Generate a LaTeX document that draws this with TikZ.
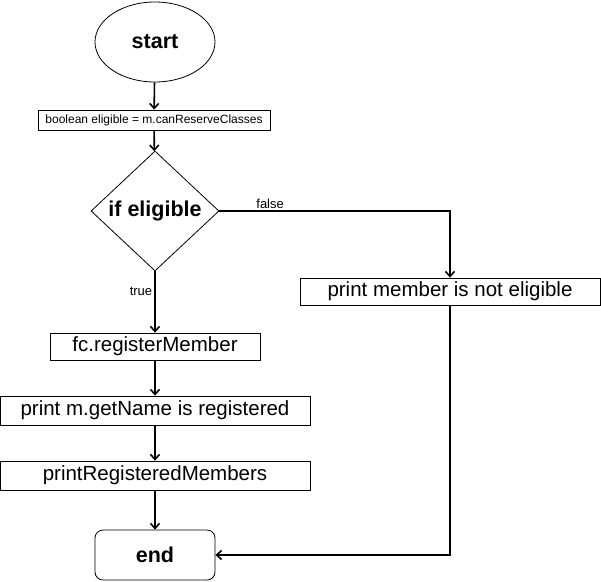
\documentclass[tikz,border=0pt]{standalone}
\usepackage{fontspec}
\setmainfont{Liberation Sans}
\usetikzlibrary{shapes.geometric,arrows.meta,positioning}

\begin{document}
\begin{tikzpicture}[x=1pt, y=-1pt, >={Straight Barb[length=5pt,width=9pt]},
  box/.style={draw, line width=0.8pt, inner sep=0pt, font=\fontsize{20.5}{24}\selectfont},
  flow/.style={->, line width=1.6pt},
  lbl/.style={font=\fontsize{13}{15}\selectfont, inner sep=2pt}]
  \useasboundingbox (0,0) rectangle (601,581);

  % Start and first step
  \node[box, ellipse, minimum width=120pt, minimum height=80pt,
        font=\fontsize{21.5}{26}\selectfont\bfseries] (start) at (155,42) {start};
  \node[box, minimum width=232pt, minimum height=20pt,
        font=\fontsize{12}{14}\selectfont] (elig) at (154,120) {boolean eligible = m.canReserveClasses};

  % Decision
  \node[box, diamond, minimum width=128pt, minimum height=120pt, inner sep=-8pt,
        font=\fontsize{21.5}{26}\selectfont\bfseries] (cond) at (155,211) {if eligible};

  % Branches
  \node[box, minimum width=300pt, minimum height=27pt] (notelig) at (450,291.5) {print member is not eligible};
  \node[box, minimum width=210pt, minimum height=27pt] (regmem) at (155,346.5) {fc.registerMember};
  \node[box, minimum width=310pt, minimum height=29pt] (printname) at (155,410.5) {print m.getName is registered};
  \node[box, minimum width=310pt, minimum height=29pt] (printreg) at (155,475.5) {printRegisteredMembers};

  % End
  \node[box, rounded corners=8pt, minimum width=120pt, minimum height=50pt,
        font=\fontsize{21.5}{26}\selectfont\bfseries] (stop) at (155,555) {end};

  % Connectors
  \draw[flow] (start) -- (elig);
  \draw[flow] (elig) -- (cond);
  \draw[flow] (cond.east) -| node[lbl, pos=0.11, above] {false} (notelig.north);
  \draw[flow] (cond.south) -- node[lbl, pos=0.33, left] {true} (regmem);
  \draw[flow] (regmem) -- (printname);
  \draw[flow] (printname) -- (printreg);
  \draw[flow] (printreg) -- (stop);
  \draw[flow] (notelig.south) |- (stop.east);
\end{tikzpicture}
\end{document}
